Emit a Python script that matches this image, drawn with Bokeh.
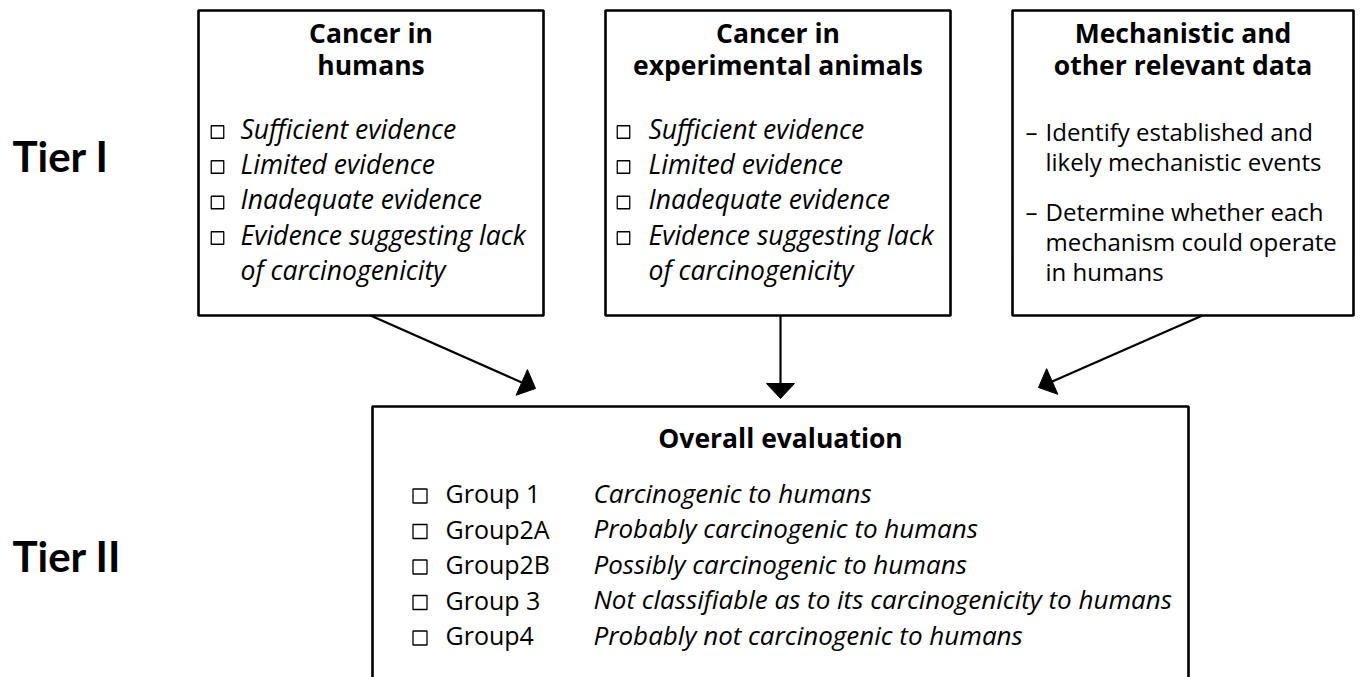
import math
from bokeh.plotting import figure
from bokeh.models import Range1d
from bokeh.core.properties import value
from bokeh.embed import file_html
from bokeh.resources import INLINE

# ---------------- data (texts of the diagram) ----------------
tiers = ["Tier I", "Tier II"]
box_titles = [
    ["Cancer in", "humans"],
    ["Cancer in", "experimental animals"],
    ["Mechanistic and", "other relevant data"],
]
evidence_levels = [
    "Sufficient evidence",
    "Limited evidence",
    "Inadequate evidence",
    "Evidence suggesting lack",
]
evidence_cont = "of carcinogenicity"
mechanistic_items = [
    ["Identify established and", "likely mechanistic events"],
    ["Determine whether each", "mechanism could operate", "in humans"],
]
overall_title = "Overall evaluation"
groups = ["Group 1", "Group2A", "Group2B", "Group 3", "Group4"]
group_desc = [
    "Carcinogenic to humans",
    "Probably carcinogenic to humans",
    "Possibly carcinogenic to humans",
    "Not classifiable as to its carcinogenicity to humans",
    "Probably not carcinogenic to humans",
]

# ---------------- figure ----------------
W, H = 1363, 677
p = figure(width=W, height=H, output_backend="svg", toolbar_location=None,
           x_range=Range1d(0, W), y_range=Range1d(H, 0), min_border=0)
p.axis.visible = False
p.grid.visible = False
p.outline_line_color = None
p.background_fill_color = "white"
p.border_fill_color = "white"

LATO = value("Lato")
OPEN = value("Open Sans")
K = 0.45  # empirical shift of the rendered alphabetic baseline (in em)

def txt(xs, baselines, texts, size, style="normal", align="left", font=OPEN):
    ys = [b - K * size for b in baselines]
    p.text(x=xs, y=ys, text=texts, text_font=font, text_font_size=f"{size}px",
           text_font_style=style, text_align=align, text_baseline="alphabetic",
           text_color="black")

# tier labels
txt([12, 12], [174, 574], tiers, 42, "bold", font=LATO)

# top boxes
boxes = [(198, 543), (605, 950), (1012, 1353)]
p.quad(left=[b[0] for b in boxes], right=[b[1] for b in boxes],
       top=[10] * 3, bottom=[315] * 3, fill_color=None,
       line_color="black", line_width=2.6)

# titles
tx, ty, tt = [], [], []
for (l, r), lines in zip(boxes, box_titles):
    for k, line in enumerate(lines):
        tx.append((l + r) / 2); ty.append(44 + 32 * k); tt.append(line)
txt(tx, ty, tt, 26.5, "bold", "center")

# evidence lists in boxes 1 and 2
ev_base = [140, 175, 210.5, 246]
cx, cy, ex, ey, et = [], [], [], [], []
for cb_x, t_x in [(217, 240), (623, 648)]:
    for yb, s in zip(ev_base, evidence_levels):
        cx.append(cb_x); cy.append(yb - 8.5)
        ex.append(t_x); ey.append(yb); et.append(s)
    ex.append(t_x); ey.append(281); et.append(evidence_cont)
p.rect(x=cx, y=cy, width=12.5, height=12.5, width_units="screen",
       height_units="screen", fill_color=None, line_color="black", line_width=1.3)
txt(ex, ey, et, 26.5, "italic")

# mechanistic list in box 3
mx, my, mt, dx, dy = [], [], [], [], []
yb = 142
for item in mechanistic_items:
    dx.append(1025); dy.append(yb)
    for line in item:
        mx.append(1045); my.append(yb); mt.append(line)
        yb += 30
    yb += 20
txt(mx, my, mt, 24)
txt(dx, dy, ["\u2013"] * len(dx), 24)

# bottom box (runs past the bottom edge)
p.quad(left=[372], right=[1188], top=[406], bottom=[740], fill_color=None,
       line_color="black", line_width=2.6)
txt([780], [449], [overall_title], 26.5, "bold", "center")

g_base = [504 + 35.5 * i for i in range(len(groups))]
p.rect(x=[419.5] * len(groups), y=[b - 8.5 for b in g_base], width=14, height=14,
       width_units="screen", height_units="screen", fill_color=None,
       line_color="black", line_width=1.3)
txt([445] * len(groups), g_base, groups, 25)
txt([593] * len(groups), g_base, group_desc, 26, "italic")

# arrows
arrows = [((370, 315), (535, 388)), ((780, 315), (780, 398)), ((1202, 315), (1038, 387))]
sx0, sy0, sx1, sy1, hx, hy = [], [], [], [], [], []
for (x0, y0), (x1, y1) in arrows:
    dxu, dyu = x1 - x0, y1 - y0
    L = math.hypot(dxu, dyu)
    ux, uy = dxu / L, dyu / L
    nx, ny = -uy, ux
    bx, by = x1 - 15 * ux, y1 - 15 * uy
    sx0.append(x0); sy0.append(y0); sx1.append(bx); sy1.append(by)
    hx.append([x1, bx + 14 * nx, bx - 14 * nx])
    hy.append([y1, by + 14 * ny, by - 14 * ny])
p.segment(x0=sx0, y0=sy0, x1=sx1, y1=sy1, line_color="black", line_width=2.2)
p.patches(xs=hx, ys=hy, fill_color="black", line_color="black", line_width=1)

open("out.html", "w").write(file_html(p, INLINE))
